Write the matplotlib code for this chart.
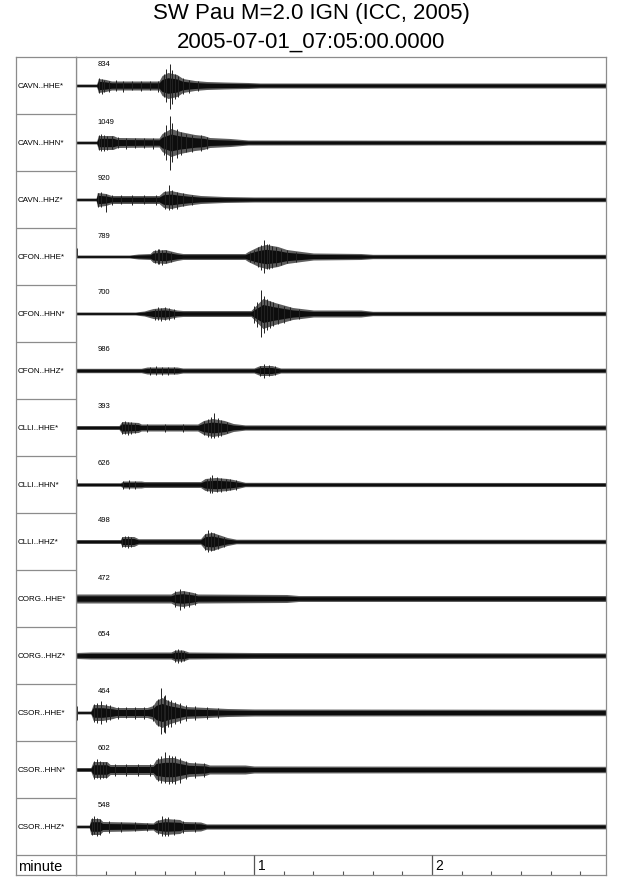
import matplotlib
matplotlib.use("Agg")
import matplotlib.pyplot as plt

plt.rcParams["font.family"] = ["Liberation Sans", "DejaVu Sans"]

title1 = "SW Pau M=2.0 IGN (ICC, 2005)"
title2 = "2005-07-01_07:05:00.0000"

stations = ["CAVN..HHE*", "CAVN..HHN*", "CAVN..HHZ*",
            "CFON..HHE*", "CFON..HHN*", "CFON..HHZ*",
            "CLLI..HHE*", "CLLI..HHN*", "CLLI..HHZ*",
            "CORG..HHE*", "CORG..HHZ*",
            "CSOR..HHE*", "CSOR..HHN*", "CSOR..HHZ*"]
peaks = [834, 1049, 920, 789, 700, 986, 393, 626, 498, 472, 654, 464, 602, 548]

# envelope of each trace (time in s, half amplitude, row half height = 28.5)
t_cavn_hhe = [0, 7.0, 7.5, 10, 12, 28, 29, 31, 34, 36, 40, 44, 50, 58, 62, 180]
a_cavn_hhe = [1.5, 1.5, 7, 6, 4.5, 4.5, 10, 13, 11, 7, 5, 4, 3.5, 3, 2.5, 2.5]
t_cavn_hhn = [0, 7.0, 7.5, 12.5, 14, 28, 29, 32, 35, 40, 43, 45, 52, 58, 180]
a_cavn_hhn = [1.5, 1.5, 7, 7, 5, 4.5, 9, 14, 11, 8, 7, 5, 4, 2.5, 2.2]
t_cavn_hhz = [0, 6.8, 7.2, 10, 12, 28, 29.5, 32, 35, 38, 42, 50, 60, 180]
a_cavn_hhz = [1.5, 1.5, 7, 6, 4, 4, 8, 9, 7, 5.5, 4, 3, 2.5, 2.2]
t_cfon_hhe = [0, 18, 21, 25, 26, 30, 34, 36, 57, 58, 61.5, 64, 68, 71, 76, 80, 96, 100, 180]
a_cfon_hhe = [1.5, 1.5, 2.5, 3, 6, 7, 4, 3, 3, 5, 10, 12, 10, 7, 5, 3.5, 3, 2.2, 2.2]
t_cfon_hhn = [0, 20, 23, 26, 30, 34, 36, 59, 61, 63, 67, 73, 80, 96, 100, 180]
a_cfon_hhn = [1.5, 1.5, 2.5, 5, 6, 3.5, 3, 3, 9, 15, 11, 6, 3.5, 3.5, 2.2, 2.2]
t_cfon_hhz = [0, 22, 24, 34, 36, 60, 62, 66, 69, 180]
a_cfon_hhz = [2.2, 2.2, 3.5, 3.5, 2.5, 2.5, 5, 5, 2.5, 2.3]
t_clli_hhe = [0, 14.5, 15.5, 21, 22, 41, 43, 46, 50, 53, 57, 180]
a_clli_hhe = [2.0, 2.0, 6, 5, 3.5, 3.5, 7, 9, 7, 4, 2.6, 2.5]
t_clli_hhn = [0, 15, 16, 22, 23, 42, 43.5, 47, 51, 53, 57, 180]
a_clli_hhn = [1.8, 1.8, 3.5, 3.5, 3, 3, 6, 7, 6, 5, 2.2, 2.0]
t_clli_hhz = [0, 15, 15.5, 19.5, 21, 42, 43.5, 46, 49, 51, 54, 180]
a_clli_hhz = [2.0, 2.0, 5, 5, 2.8, 2.8, 8, 9, 6, 4, 2.3, 2.2]
t_corg_hhe = [0, 32, 33.5, 36, 39.5, 41, 71, 75, 180]
a_corg_hhe = [4.5, 4.5, 7, 8, 6, 4.5, 4, 3, 3]
t_corg_hhz = [0, 5, 32, 33.5, 36, 38, 60, 180]
a_corg_hhz = [3, 3.5, 3.5, 5.5, 5.5, 3.5, 3, 2.5]
t_csor_hhe = [0, 5, 5.8, 9, 12.5, 13.5, 24, 26, 27, 29, 31.7, 34, 37, 44, 51, 60, 180]
a_csor_hhe = [1.5, 1.5, 8, 8, 6, 5, 5, 7, 12, 15, 11, 9, 6, 5, 4, 3.5, 3.2]
t_csor_hhn = [0, 5, 5.8, 10.4, 11.5, 26, 27, 30, 33, 36, 38, 43.5, 45, 57, 60, 180]
a_csor_hhn = [2, 2, 8, 8, 5, 5, 10, 12, 12, 9, 7, 6, 4.5, 4.5, 3.5, 3.2]
t_csor_hhz = [0, 4.5, 5, 8, 9, 18, 26, 27, 30, 35, 36, 42, 44, 180]
a_csor_hhz = [1.5, 1.5, 8, 8, 5, 4.5, 3.5, 6, 8, 7, 5, 4.5, 2.6, 2.4]

# single swings seen in the bursts (time, up, down)
s_cavn_hhe = ([7.8, 8.6, 9.5, 11, 13.5, 16, 19, 22, 25, 27.5, 29.5, 30.5, 31.7, 32.5, 33.5, 34.5, 36, 38, 41],
              [8, 7, 6, 5, 6, 5, 5, 4.5, 5, 5, 12, 17, 21.5, 16, 12, 10, 8, 6, 5],
              [7, 8, 6, 6, 5, 6, 4.5, 5, 4.5, 6, 11, 16, 23.5, 18, 13, 11, 8, 7, 5])
s_cavn_hhn = ([7.8, 8.5, 9.5, 10.5, 12, 14, 17, 20, 23, 26, 29.5, 30.5, 31.7, 32.5, 34, 35.5, 37, 39, 42, 44],
              [8, 9, 8, 7, 7, 6, 5, 5, 5, 5, 11, 18, 27, 20, 14, 11, 9, 8, 8, 6],
              [7, 8, 8, 7, 6, 5, 6, 5, 5, 6, 12, 17, 27, 19, 15, 12, 9, 9, 8, 6])
s_cavn_hhz = ([7.5, 8.5, 10, 12, 15, 19, 23, 27, 30, 31.5, 32.5, 34, 36, 39],
              [7, 8, 6, 5, 5, 4.5, 5, 4.5, 9, 14.5, 10, 8, 7, 5],
              [7, 7, 12.5, 5, 4.5, 5, 4.5, 5, 9, 10, 9, 9, 6, 5])
s_cfon_hhe = ([0.2, 26.5, 27.5, 28, 29, 30.5, 32, 58.5, 60, 61.5, 62.5, 63.4, 64.5, 65, 66, 67.5, 69, 71, 74],
              [9, 7, 8, 8, 7, 7, 5, 5, 7, 10, 12, 17, 13, 13, 11, 10, 8, 7, 5],
              [0, 6, 7, 7, 8, 6, 5, 5, 6, 10, 13, 16.5, 12, 12, 11, 9, 8, 6, 5])
s_cfon_hhn = ([26.5, 27.5, 28.5, 30, 31.5, 33, 60, 61, 62.2, 63.5, 64.5, 65.5, 66.5, 68, 70, 72, 75],
              [5, 7, 6, 7, 6, 5, 8, 12, 23.5, 18, 15, 13, 12, 10, 8, 7, 5],
              [6, 6, 7, 6, 6, 5, 9, 13, 23.5, 19, 16, 14, 12, 10, 9, 6, 5])
s_cfon_hhz = ([25, 27, 29, 31, 33, 62, 63.5, 65, 67],
              [4, 4.5, 4, 4, 3.5, 5, 6.5, 5.5, 4.5],
              [4, 4, 4.5, 4, 3.5, 5, 7, 5.5, 4.5])
s_clli_hhe = ([15.5, 16.5, 17.5, 18.5, 20, 24, 30, 36, 43, 44.5, 45.5, 46.5, 48, 49, 51],
              [6, 7, 6, 6, 5, 4, 4, 4, 7, 9, 11, 14.5, 10, 8, 6],
              [6, 6, 7, 6, 5, 4, 4, 4, 7, 9, 10, 10.5, 9, 8, 5])
s_clli_hhn = ([0.2, 16, 18, 20, 44, 45, 46, 47.5, 49, 50.5, 52, 54],
              [6, 4, 4.5, 4, 6, 8, 9.5, 8, 7, 6, 6, 5],
              [0, 4, 4, 4.5, 6, 8, 8.5, 7, 7, 6, 5, 5])
s_clli_hhz = ([15.5, 16.5, 17.5, 18.5, 43.5, 44.5, 45.5, 46.5, 48, 50],
              [5, 6, 5.5, 5, 8, 11.5, 10, 9, 7, 5],
              [5, 5.5, 6, 5, 8, 10, 9, 8, 7, 5])
s_corg_hhe = ([33.5, 35, 36.5, 38, 40],
              [7.5, 9.5, 8, 7, 6],
              [8, 11, 9, 8, 6])
s_corg_hhz = ([33.5, 34.5, 35.5, 36.5],
              [6, 7, 6, 5],
              [6, 7, 6, 5])
s_csor_hhe = ([0.2, 6, 7, 8.5, 10, 11.5, 14, 17, 20, 23, 26, 27.5, 28.6, 29.5, 30, 31, 32, 33.5, 35, 37, 40, 44, 48],
              [7, 9, 10, 12, 9, 8, 6, 6, 6, 6, 8, 14, 25, 17, 18, 13, 13, 11, 10, 8, 7, 6, 5],
              [7, 9, 10, 11.5, 9, 7, 6, 5, 6, 6, 8, 13, 21.5, 19, 20, 14, 14, 11, 10, 8, 7, 6, 5])
s_csor_hhn = ([6, 7, 8, 9, 10, 13, 17, 21, 25, 27.5, 28.5, 30, 31.5, 32.5, 33.5, 35, 37, 40, 43],
              [9, 10.5, 9, 8, 8, 6, 6, 6, 6, 12, 14, 18, 15, 14, 14, 12, 9, 8, 7],
              [9, 8, 9, 8, 8, 6, 6, 6, 6, 11, 13, 13, 14.5, 13, 14, 13, 9, 8, 7])
s_csor_hhz = ([5.3, 6, 7, 8, 11, 15, 20, 24, 27.5, 29, 30, 31, 33, 36, 40],
              [9, 11, 9, 8, 6, 5, 4.5, 4, 7, 11, 9, 10, 8, 6, 5],
              [8, 7.5, 9, 8, 6, 5, 4.5, 4, 7, 9, 9, 9, 8, 6, 5])

env_t = [t_cavn_hhe, t_cavn_hhn, t_cavn_hhz, t_cfon_hhe, t_cfon_hhn, t_cfon_hhz,
         t_clli_hhe, t_clli_hhn, t_clli_hhz, t_corg_hhe, t_corg_hhz,
         t_csor_hhe, t_csor_hhn, t_csor_hhz]
env_a = [a_cavn_hhe, a_cavn_hhn, a_cavn_hhz, a_cfon_hhe, a_cfon_hhn, a_cfon_hhz,
         a_clli_hhe, a_clli_hhn, a_clli_hhz, a_corg_hhe, a_corg_hhz,
         a_csor_hhe, a_csor_hhn, a_csor_hhz]
swings = [s_cavn_hhe, s_cavn_hhn, s_cavn_hhz, s_cfon_hhe, s_cfon_hhn, s_cfon_hhz,
          s_clli_hhe, s_clli_hhn, s_clli_hhz, s_corg_hhe, s_corg_hhz,
          s_csor_hhe, s_csor_hhn, s_csor_hhz]

W, H = 640, 878
fig = plt.figure(figsize=(W / 100, H / 100), dpi=100)


def box(x0, y0, x1, y1):
    return [x0 / W, 1 - y1 / H, (x1 - x0) / W, (y1 - y0) / H]


n = len(stations)
row_px = 57.0
g = 1 / row_px
bottom = n - 0.5 + 20 / row_px
t_end = (606 - 76) / 178 * 60
frame = "#8c8c8c"

ax = fig.add_axes(box(76, 58, 606, 876))
lab = fig.add_axes(box(16, 58, 76, 876))
for a in (ax, lab):
    a.set_ylim(bottom, -0.5)
    a.set_xticks([])
    a.set_yticks([])
    for s in a.spines.values():
        s.set_color(frame)
        s.set_linewidth(0.9)
ax.set_xlim(0, t_end)
lab.set_xlim(0, 1)

for i in range(n):
    t = env_t[i]
    amp = env_a[i]
    # grey outer band, dark core
    ax.fill_between(t, [i - v * g for v in amp], [i + v * g for v in amp],
                    color="#5e5e5e", lw=0)
    ax.fill_between(t, [i - 0.6 * v * g for v in amp], [i + 0.6 * v * g for v in amp],
                    color="#0d0d0d", lw=0)
    st, up, dn = swings[i]
    ax.vlines(st, [i - v * g for v in up], [i + v * g for v in dn], color="#222222", lw=0.7)
    ax.text(7.4, i - 0.5 + 7 * g, str(peaks[i]), fontsize=5.5, va="center", ha="left")
    lab.text(0.03, i, stations[i], fontsize=5.8, va="center", ha="left")
    if i < n - 1:
        lab.axhline(i + 0.5, color=frame, lw=0.9)

ax.axhline(n - 0.5, color=frame, lw=0.9)
lab.axhline(n - 0.5, color=frame, lw=0.9)

# time axis row
minor = [10, 20, 30, 40, 50, 70, 80, 90, 100, 110, 130, 140, 150, 160, 170]
ax.vlines(minor, bottom, bottom - 4 * g, color="#555555", lw=0.8)
ax.vlines([60, 120], n - 0.5, bottom, color="#555555", lw=0.9)
for m, lbl in zip([60, 120], ["1", "2"]):
    ax.text(m + 1.2, n - 0.5 + 10 * g, lbl, fontsize=10, va="center", ha="left")
lab.text(0.03, n - 0.5 + 11 * g, "minute", fontsize=10.5, va="center", ha="left")

fig.text(311 / W, 1 - 14 / H, title1, fontsize=16, ha="center", va="center")
fig.text(311 / W, 1 - 42 / H, title2, fontsize=16, ha="center", va="center")

fig.savefig("out.png", dpi=100)
